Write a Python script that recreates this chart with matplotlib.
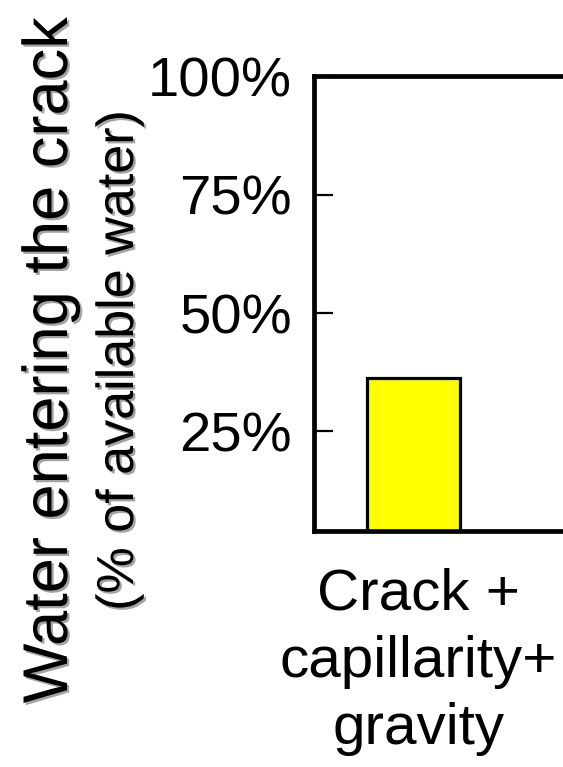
import matplotlib
matplotlib.use("Agg")
import matplotlib.pyplot as plt
import matplotlib.patheffects as pe
import matplotlib.transforms as mtransforms

plt.rcParams['font.family'] = ['Liberation Sans', 'DejaVu Sans']

categories = ["Crack +\ncapillarity+\ngravity"]
values = [36.2]
yticks = [25, 50, 75, 100]
yticklabels = ["25%", "50%", "75%", "100%"]
ylabel_main = "Water entering the crack"
ylabel_sub = "(% of available water)"

fig = plt.figure(figsize=(5.63, 7.67), dpi=100)
ax = fig.add_axes([0.558, 0.3077, 0.5, 0.593])

ax.bar(range(len(categories)), values, width=0.6, color="#ffff00",
       edgecolor="black", linewidth=2.3, zorder=2)

ax.set_xlim(-0.64, 1.18)
ax.set_ylim(4, 100)
ax.set_yticks(yticks)
ax.set_yticklabels(yticklabels)
ax.set_xticks(range(len(categories)))
ax.set_xticklabels(categories, linespacing=1.32)

ax.spines['right'].set_visible(False)
for s in ['left', 'top', 'bottom']:
    ax.spines[s].set_linewidth(3.4)

ax.tick_params(axis='y', direction='in', length=14, width=1.6,
               labelsize=40.5, pad=16)
ax.tick_params(axis='x', length=0, labelsize=42, pad=26)

# small shift of the category label to the right
shift = mtransforms.ScaledTranslation(5.5 / 100, 0, fig.dpi_scale_trans)
for lab in ax.get_xticklabels():
    lab.set_transform(lab.get_transform() + shift)

shadow = [pe.SimplePatchShadow(offset=(1.6, -1.6), shadow_rgbFace="#9a9a9a", alpha=0.9),
          pe.Normal()]
fig.text(67 / 563, 1 - 360 / 767, ylabel_main, rotation=90, rotation_mode='anchor',
         ha='center', va='baseline', fontsize=45.5, path_effects=shadow)
fig.text(133 / 563, 1 - 360 / 767, ylabel_sub, rotation=90, rotation_mode='anchor',
         ha='center', va='baseline', fontsize=37.5, path_effects=shadow)

fig.savefig("out.png", dpi=100)
